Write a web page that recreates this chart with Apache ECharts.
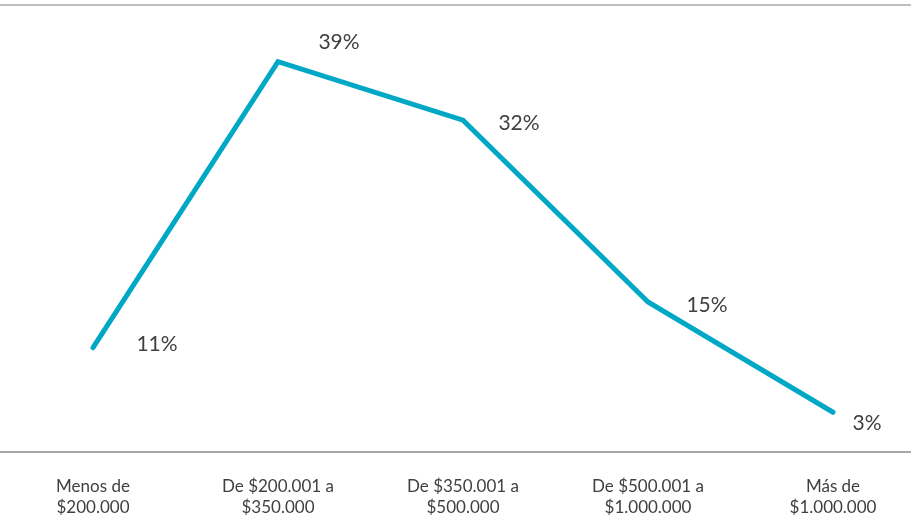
<!DOCTYPE html>
<html>
<head>
<meta charset="utf-8">
<script src="https://cdn.jsdelivr.net/npm/echarts@6/dist/echarts.min.js"></script>
<style>html,body{margin:0;padding:0;background:#fff;}#c{width:911px;height:520px;}</style>
</head>
<body>
<div id="c"></div>
<script>
var categories = ['Menos de\n$200.000', 'De $200.001 a\n$350.000', 'De $350.001 a\n$500.000', 'De $500.001 a\n$1.000.000', 'Más de\n$1.000.000'];
var values = [10.5, 39.3, 33.4, 15.1, 4.0];
var labelTexts = ['11%', '39%', '32%', '15%', '3%'];
var labelOffsets = [[64, -3], [61, -19], [56, 3], [59, 3], [34, 11]];

var chart = echarts.init(document.getElementById('c'), null, {renderer: 'canvas'});
var data = values.map(function (v, i) {
  return {value: v, label: {offset: labelOffsets[i], formatter: labelTexts[i]}};
});
chart.setOption({
  animation: false,
  grid: {left: 0.5, width: 925, top: 5, bottom: 68, outerBoundsMode: 'none', containLabel: false},
  xAxis: [{
    type: 'category', data: categories, position: 'bottom', boundaryGap: true,
    axisLine: {lineStyle: {color: '#A6A6A6', width: 2}},
    axisTick: {show: false},
    axisLabel: {color: '#404040', fontFamily: 'Lato', fontSize: 17, lineHeight: 21, margin: 24, interval: 0}
  }, {
    type: 'category', data: categories, position: 'top', boundaryGap: true,
    axisLine: {lineStyle: {color: '#BFBFBF', width: 2}},
    axisTick: {show: false}, axisLabel: {show: false}
  }],
  yAxis: {type: 'value', min: 0, max: 45, show: false, splitLine: {show: false}},
  series: [{
    type: 'line', data: data, xAxisIndex: 0,
    showSymbol: true, symbol: 'circle', symbolSize: 0,
    lineStyle: {color: '#00A8C6', width: 5, cap: 'round', join: 'miter'},
    itemStyle: {color: '#00A8C6'},
    label: {show: true, position: 'inside', color: '#404040', fontFamily: 'Lato', fontSize: 21}
  }]
});
</script>
</body>
</html>
